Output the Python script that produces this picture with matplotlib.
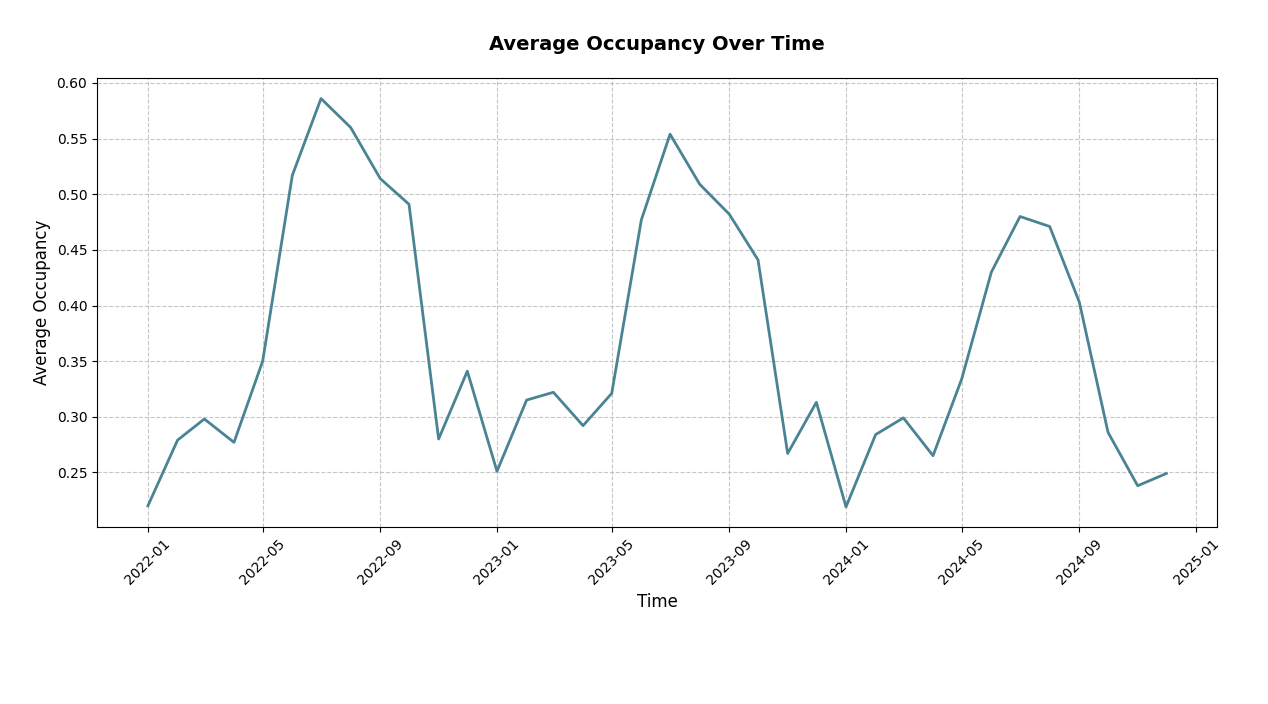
import numpy as np
import pandas as pd
import matplotlib
matplotlib.use('Agg')
import matplotlib.pyplot as plt

# 월별 평균 점유율
months = pd.date_range('2022-01-01', '2024-12-01', freq='MS')
occupancy = [0.220, 0.279, 0.298, 0.277, 0.350, 0.517, 0.586, 0.560, 0.514, 0.491, 0.280, 0.341,
             0.251, 0.315, 0.322, 0.292, 0.321, 0.477, 0.554, 0.509, 0.482, 0.441, 0.267, 0.313,
             0.219, 0.284, 0.299, 0.265, 0.334, 0.430, 0.480, 0.471, 0.403, 0.286, 0.238, 0.249]

fig, ax = plt.subplots(figsize=(12.68, 7.04), dpi=100)
ax.plot(months, occupancy, color='#4a8494', linewidth=2)
ax.set_title('Average Occupancy Over Time', fontsize=14, fontweight='bold', pad=20)
ax.set_xlabel('Time', fontsize=12)
ax.set_ylabel('Average Occupancy', fontsize=12)
ax.grid(True, linestyle='--', alpha=0.7)
ax.tick_params(labelsize=10)
plt.setp(ax.get_xticklabels(), rotation=45)
plt.subplots_adjust(left=0.0765, right=0.96, top=0.889, bottom=0.251)
plt.savefig('out.png', dpi=100)
